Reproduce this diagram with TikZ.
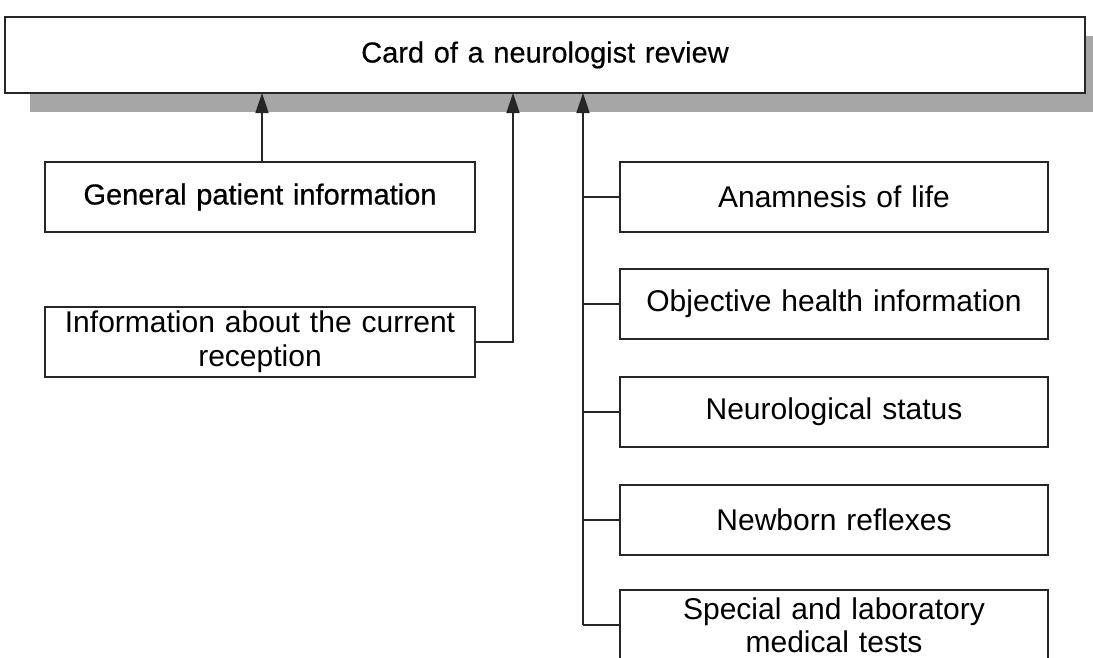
\documentclass[tikz,border=0pt]{standalone}
\usepackage{fontspec}
\setmainfont{Liberation Sans}
\usetikzlibrary{arrows.meta}
\begin{document}
\begin{tikzpicture}[x=1pt,y=-1pt,
  box/.style={draw=black!85, line width=1.6pt, fill=white, align=center, inner sep=0pt,
    font=\fontsize{30}{34}\selectfont},
  lbox/.style={box, minimum width=430pt, minimum height=70pt, text width=420pt},
  rbox/.style={box, minimum width=428pt, minimum height=70pt, text width=420pt},
  conn/.style={draw=black!85, line width=1.6pt},
  arr/.style={conn, -{Triangle[length=20pt,width=13pt]}}]
\clip (0,0) rectangle (1093,657);
\fill[white] (0,0) rectangle (1093,657);
% shadow
\fill[black!35] (30,36) rectangle (1110,112);
\node[box, minimum width=1080pt, minimum height=76pt, text width=1070pt,
  font=\fontsize{29}{34}\selectfont\addfontfeature{FakeBold=0.3}] (top) at (545,55) {Card of a neurologist review};
% left boxes
\node[lbox, font=\fontsize{29}{34}\selectfont\addfontfeature{FakeBold=0.6}] (gpi) at (260,197) {General patient information};
\node[lbox] (cur) at (260,342) {Information about the current\\reception};
% right boxes
\node[rbox] (ana) at (834,197) {Anamnesis of life};
\node[rbox] (obj) at (834,304) {Objective health information};
\node[rbox] (neu) at (834,412) {Neurological status};
\node[rbox] (new) at (834,520) {Newborn reflexes};
\node[rbox, font=\fontsize{30}{33}\selectfont] (spe) at (834,625) {Special and laboratory\\medical tests};
% connectors
\coordinate (t1) at (262,93);
\coordinate (t2) at (513,93);
\coordinate (t3) at (583,93);
\coordinate (b3) at (t3 |- spe.west);
\draw[arr] (262,163) -- (t1);
\draw[arr] (cur.east) -| (t2);
\draw[arr] (b3) -- (t3);
\foreach \n in {ana,obj,neu,new,spe}{
  \draw[conn] (t3 |- \n.west) -- (\n.west);
}
\end{tikzpicture}
\end{document}
